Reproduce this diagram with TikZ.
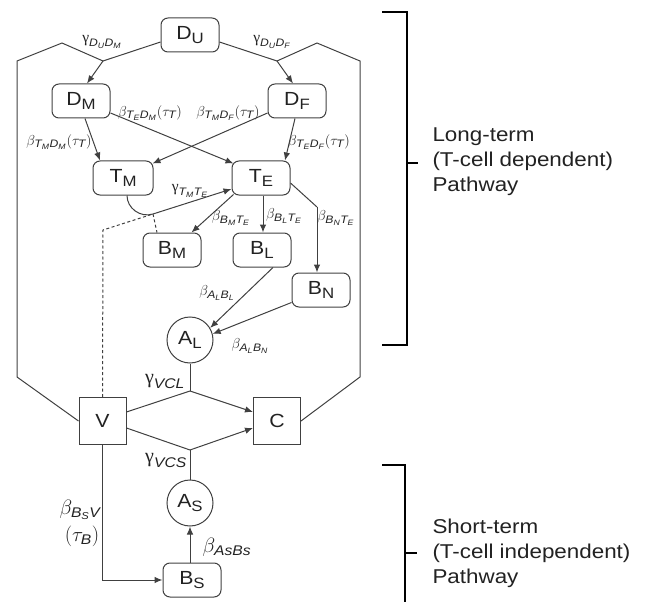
\documentclass[tikz,border=0pt]{standalone}
\usepackage{amsmath}
\usepackage{fontspec}
\setmainfont{Liberation Sans}[FakeStretch=1.12]
\newfontfamily\grk{Liberation Serif}
\usetikzlibrary{arrows.meta,calc}
\definecolor{lc}{HTML}{404040}
\definecolor{tc}{HTML}{222222}
% italic sans letter with italic sans subscript
\newcommand\sfi[1]{\textit{#1}}
\newcommand\subl[2]{\sfi{#1}_{\sfi{#2}}}
\newcommand\gam{\text{\grk γ}}
% compartment name: letter with lowered smaller index
\newcommand\cell[2]{#1\raisebox{-3.5pt}{\fontsize{15}{15}\selectfont #2}}
\begin{document}
\begin{tikzpicture}[x=1pt,y=-1pt,line width=1pt,
  box/.style={draw=lc,rounded corners=7pt,minimum width=58pt,minimum height=34pt,
    inner sep=0pt,text=tc,font=\fontsize{19}{19}\selectfont},
  circ/.style={draw=lc,circle,minimum size=46pt,inner sep=0pt,text=tc,
    font=\fontsize{19}{19}\selectfont},
  sq/.style={draw=lc,minimum size=47pt,inner sep=0pt,text=tc,
    font=\fontsize{19}{19}\selectfont},
  lab/.style={inner sep=0pt,text=tc,font=\fontsize{15.5}{15.5}\selectfont},
  biglab/.style={inner sep=0pt,text=tc,font=\fontsize{20}{20}\selectfont},
  conn/.style={draw=lc},
  arr/.style={draw=lc,-{Latex[length=8pt,width=6.5pt]}},
  dsh/.style={draw=lc,dash pattern=on 3pt off 2.5pt},
  brk/.style={draw=black,line width=1.4pt},
  side/.style={anchor=west,align=left,inner sep=0pt,text=tc,
    font=\fontsize{20}{25}\selectfont}]
\useasboundingbox (0,0) rectangle (657,602);

% compartments
\node[box] (DU) at (190,35) {\cell{D}{U}};
\node[box] (DM) at (81,101) {\cell{D}{M}};
\node[box] (DF) at (297,101) {\cell{D}{F}};
\node[box,minimum width=60pt] (TM) at (123,178) {\cell{T}{M}};
\node[box] (TE) at (261,178) {\cell{T}{E}};
\node[box] (BM) at (172,250) {\cell{B}{M}};
\node[box] (BL) at (262,250) {\cell{B}{L}};
\node[box] (BN) at (321,290) {\cell{B}{N}};
\node[circ] (AL) at (190,340) {\cell{A}{L}};
\node[sq] (V) at (102.5,421) {V};
\node[sq] (C) at (277,421) {C};
\node[circ] (AS) at (190,503) {\cell{A}{S}};
\node[box] (BS) at (192,580) {\cell{B}{S}};

% junctions and bends
\coordinate (jL) at (103,61);
\coordinate (jR) at (277,61);
\coordinate (oL1) at (17,377);
\coordinate (oL2) at (17,61);
\coordinate (oL3) at (62,43);
\coordinate (oR1) at (360,377);
\coordinate (oR2) at (360,61);
\coordinate (oR3) at (317,43);
\coordinate (jT) at (153,214);
\coordinate (kT) at (103,230);
\coordinate (kN) at (317,207);
\coordinate (jA) at (190,391);
\coordinate (jS) at (190,450);
\coordinate (kS) at (102.5,580);

% V and C feed the dendritic cell split
\draw[conn] ([yshift=-7pt]DU.west) -- (jL);
\draw[conn] ([yshift=-7pt]DU.east) -- (jR);
\draw[arr] (jL) -- ([xshift=6pt]DM.north);
\draw[arr] (jR) -- ([xshift=-4pt]DF.north);
\draw[conn] (V.west) -- (oL1) -- (oL2) -- (oL3) -- (jL);
\draw[conn] (C.east) -- (oR1) -- (oR2) -- (oR3) -- (jR);

% dendritic cells activate T cells
\draw[arr] ($(DM.south)+(4,0)$) -- ($(TM.north)+(-23,0)$);
\draw[arr] ($(DM.east)+(0,12)$) -- ($(TE.north west)+(2,3)$);
\draw[arr] ($(DF.west)+(0,12)$) -- ($(TM.north east)+(-1,3)$);
\draw[arr] ($(DF.south)+(-2,0)$) -- ($(TE.north)+(24,0)$);

% memory T cells to effector T cells
\draw[conn] ($(TM.south)+(4,0)$) .. controls (127,208) and (140,218) .. (jT);
\draw[arr] (jT) -- ($(TE.west)+(0,11)$);
\draw[dsh] (V.north) -- (kT) -- (jT);
\draw[dsh] (jT) -- ($(BM.north)+(-15,0)$);

% effector T cells to B cells
\draw[arr] ($(TE.south west)+(2,-1)$) -- ($(BM.north east)+(-10,0)$);
\draw[arr] ($(TE.south)+(2,0)$) -- ($(BL.north)+(1,0)$);
\draw[conn] ($(TE.east)+(0,5)$) -- (kN);
\draw[arr] (kN) -- ($(BN.north)+(-4,0)$);

% B cells to long-term antibodies
\draw[arr] ($(BL.south)+(11,0)$) -- (AL.31);
\draw[arr] ($(BN.south west)+(0,-5)$) -- (AL.15);

% antibodies neutralise virus into complexes
\draw[conn] (AL.south) -- (jA);
\draw[conn] ($(V.east)+(0,-9)$) -- (jA);
\draw[arr] (jA) -- ($(C.west)+(0,-9)$);
\draw[conn] ($(V.east)+(0,7)$) -- (jS);
\draw[arr] (jS) -- ($(C.west)+(0,7)$);
\draw[conn] (AS.north) -- (jS);

% short-term pathway
\draw[arr] (V.south) -- (kS) -- (BS.west);
\draw[arr] ($(BS.north)+(-2,0)$) -- (AS.south);

% rate labels
\node[lab] (gDM) at (102,42) {$\gam_{\subl{D}{U}\subl{D}{M}}$};
\node[lab] (gDF) at (272,42) {$\gam_{\subl{D}{U}\subl{D}{F}}$};
\node[lab] (bTEDM) at (150,113) {$\beta_{\subl{T}{E}\subl{D}{M}}(\tau_{\sfi{T}})$};
\node[lab] (bTMDF) at (228,113) {$\beta_{\subl{T}{M}\subl{D}{F}}(\tau_{\sfi{T}})$};
\node[lab] (bTMDM) at (59,142) {$\beta_{\subl{T}{M}\subl{D}{M}}(\tau_{\sfi{T}})$};
\node[lab] (bTEDF) at (319,142) {$\beta_{\subl{T}{E}\subl{D}{F}}(\tau_{\sfi{T}})$};
\node[lab] (gTMTE) at (190,191) {$\gam_{\subl{T}{M}\subl{T}{E}}$};
\node[lab] (bBMTE) at (231,218) {$\beta_{\subl{B}{M}\subl{T}{E}}$};
\node[lab] (bBLTE) at (284,216) {$\beta_{\subl{B}{L}\subl{T}{E}}$};
\node[lab] (bBNTE) at (336,218) {$\beta_{\subl{B}{N}\subl{T}{E}}$};
\node[lab] (bALBL) at (217,293) {$\beta_{\subl{A}{L}\subl{B}{L}}$};
\node[lab] (bALBN) at (250,346) {$\beta_{\subl{A}{L}\subl{B}{N}}$};
\node[biglab] (gVCL) at (165,381) {$\gam_{\sfi{VCL}}$};
\node[biglab] (gVCS) at (166,460) {$\gam_{\sfi{VCS}}$};
\node[biglab] (bBSV) at (80,510) {$\beta_{\subl{B}{S}\sfi{V}}$};
\node[biglab] (tauB) at (82,536) {$(\tau_{\sfi{B}})$};
\node[biglab] (bASBS) at (227,547) {$\beta_{\sfi{AsBs}}$};

% pathway brackets
\draw[brk] (382,12) -- (407,12) -- (407,345) -- (382,345);
\draw[brk] (407,163) -- (418,163);
\node[side] (long) at (432,162) {Long-term\\(T-cell dependent)\\Pathway};
\draw[brk] (382,465) -- (405,465) -- (405,602);
\draw[brk] (405,553) -- (417,553);
\node[side] (short) at (432,553) {Short-term\\(T-cell independent)\\Pathway};
\end{tikzpicture}
\end{document}
